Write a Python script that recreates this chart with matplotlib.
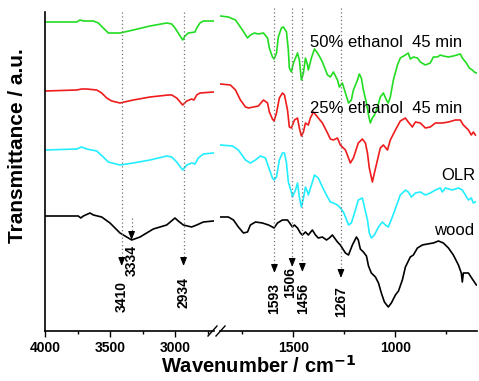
import numpy as np
import matplotlib
matplotlib.use("Agg")
import matplotlib.pyplot as plt
from matplotlib.lines import Line2D

plt.rcParams['font.family'] = ['Liberation Sans', 'DejaVu Sans']

# ---- spectra, high wavenumber window (4000 - 2700 cm-1) ----
wood_hi_wn = [4000, 3744, 3725, 3705, 3654, 3628, 3564, 3500, 3423, 3333, 3269, 3167, 3064, 3000, 2975, 2936, 2872, 2833, 2782, 2705]
wood_hi_t = [115, 115, 113, 115, 118, 116, 114, 108, 98, 91, 94, 102, 106, 113, 110, 106, 104, 106, 109, 110]

olr_hi_wn = [4000, 3756, 3718, 3679, 3602, 3552, 3513, 3423, 3321, 3192, 3064, 3025, 2987, 2941, 2910, 2872, 2846, 2821, 2782, 2705]
olr_hi_t = [181, 182, 184, 182, 180, 174, 169, 166, 168, 171, 175, 174, 169, 161, 166, 168, 167, 173, 177, 178]

e25_hi_wn = [4000, 3756, 3718, 3679, 3602, 3564, 3525, 3487, 3423, 3321, 3192, 3052, 3025, 2987, 2941, 2910, 2872, 2854, 2833, 2808, 2705]
e25_hi_t = [240, 241, 242, 242, 241, 238, 233, 230, 228, 231, 234, 236, 236, 233, 226, 230, 232, 231, 236, 238, 239]

e50_hi_wn = [4000, 3756, 3731, 3705, 3628, 3590, 3552, 3513, 3423, 3321, 3192, 3064, 3025, 3000, 2975, 2941, 2923, 2898, 2846, 2833, 2808, 2782, 2705]
e50_hi_t = [309, 309, 311, 310, 310, 308, 303, 298, 298, 301, 305, 308, 307, 303, 298, 291, 295, 298, 299, 303, 308, 310, 310]

# ---- spectra, fingerprint window (1860 - 600 cm-1) ----
e50_lo_wn = [1858, 1819, 1784, 1750, 1725, 1711, 1691, 1672, 1647, 1627, 1618, 1603, 1595, 1583, 1574, 1559, 1549,
             1534, 1525, 1520, 1510, 1500, 1480, 1471, 1461, 1451, 1441, 1431, 1427, 1412, 1397, 1382, 1368, 1358,
             1333, 1319, 1304, 1284, 1275, 1260, 1245, 1230, 1216, 1206, 1186, 1177, 1167, 1157, 1142, 1132, 1123,
             1113, 1103, 1088, 1074, 1059, 1044, 1035, 1025, 1010, 990, 976, 951, 937, 927, 912, 892, 878, 853, 829,
             814, 794, 780, 765, 740, 716, 682, 672, 652, 638, 623, 613, 603]
e50_lo_t = [315, 314, 311, 301, 293, 296, 298, 297, 298, 293, 283, 274, 272, 278, 294, 303, 304,
            299, 281, 263, 259, 268, 278, 271, 251, 258, 273, 266, 261, 273, 282, 278, 273, 269,
            256, 254, 259, 251, 244, 248, 238, 228, 231, 241, 251, 257, 253, 241, 228, 216, 208,
            213, 216, 224, 234, 238, 231, 228, 234, 251, 266, 273, 276, 278, 272, 274, 273, 269, 266, 268,
            274, 274, 276, 275, 274, 275, 277, 273, 268, 263, 261, 259, 258]

e25_lo_wn = [1858, 1809, 1784, 1760, 1735, 1720, 1696, 1672, 1647, 1627, 1618, 1603, 1595, 1583, 1569, 1554, 1544,
             1529, 1520, 1510, 1495, 1480, 1471, 1461, 1451, 1441, 1427, 1417, 1402, 1382, 1358, 1333, 1319, 1304,
             1284, 1270, 1245, 1230, 1221, 1206, 1182, 1162, 1147, 1137, 1128, 1113, 1103, 1088, 1074, 1059, 1039,
             1025, 1000, 976, 951, 937, 917, 902, 878, 853, 829, 804, 770, 740, 706, 682, 667, 642, 628, 618, 608]
e25_lo_t = [247, 246, 241, 231, 224, 223, 224, 225, 231, 228, 219, 212, 210, 218, 233, 238, 236,
            221, 204, 203, 211, 213, 203, 195, 199, 208, 206, 213, 219, 214, 208, 198, 192, 191,
            193, 186, 181, 173, 168, 173, 188, 192, 188, 178, 163, 149, 158, 171, 183, 186, 181,
            191, 201, 210, 213, 209, 204, 209, 208, 203, 204, 208, 208, 209, 211, 211, 206, 201, 196, 199, 196]

olr_lo_wn = [1858, 1799, 1770, 1735, 1711, 1686, 1662, 1637, 1622, 1603, 1595, 1583, 1569, 1554, 1544, 1534, 1525,
             1510, 1505, 1490, 1480, 1471, 1461, 1451, 1441, 1431, 1427, 1407, 1397, 1378, 1358, 1333, 1319, 1304,
             1284, 1270, 1255, 1245, 1230, 1216, 1196, 1182, 1162, 1152, 1137, 1128, 1118, 1103, 1083, 1064, 1049,
             1035, 1015, 990, 976, 951, 937, 922, 902, 878, 853, 829, 804, 780, 770, 755, 721, 691, 672, 657, 642,
             628, 618, 608]
olr_lo_t = [186, 185, 181, 171, 168, 171, 175, 173, 164, 153, 151, 154, 171, 178, 178, 168, 149,
            139, 134, 141, 148, 134, 124, 133, 144, 139, 136, 149, 156, 153, 144, 134, 129, 128,
            126, 123, 119, 114, 106, 108, 121, 131, 133, 124, 111, 98, 93, 96, 104, 109, 106,
            104, 114, 128, 136, 141, 139, 134, 138, 139, 136, 138, 141, 143, 139, 143, 141, 143, 141, 136, 131,
            133, 128, 129]

wood_lo_wn = [1858, 1819, 1794, 1770, 1745, 1725, 1711, 1686, 1652, 1622, 1603, 1595, 1578, 1554, 1529, 1515, 1505,
              1495, 1480, 1466, 1456, 1441, 1427, 1407, 1392, 1378, 1358, 1338, 1324, 1309, 1284, 1270, 1245, 1230,
              1211, 1191, 1182, 1172, 1157, 1142, 1132, 1118, 1098, 1083, 1069, 1054, 1035, 1020, 1000, 985, 966,
              951, 927, 912, 892, 868, 843, 814, 789, 765, 740, 716, 691, 677, 672, 667, 642, 623, 603]
wood_lo_t = [114, 114, 111, 104, 98, 99, 106, 109, 108, 106, 104, 103, 108, 111, 111, 107, 104,
             106, 103, 98, 96, 99, 96, 101, 96, 93, 94, 91, 93, 96, 89, 86, 78, 76,
             86, 94, 91, 82, 79, 75, 65, 58, 54, 48, 38, 29, 24, 28, 36, 40, 51,
             64, 74, 76, 83, 86, 87, 88, 90, 88, 83, 76, 66, 58, 49, 58, 58, 52, 46]

colors = ['black', '#22eeff', '#ee1c1c', '#22dd22']
hi_sets = [(wood_hi_wn, wood_hi_t), (olr_hi_wn, olr_hi_t), (e25_hi_wn, e25_hi_t), (e50_hi_wn, e50_hi_t)]
lo_sets = [(wood_lo_wn, wood_lo_t), (olr_lo_wn, olr_lo_t), (e25_lo_wn, e25_lo_t), (e50_lo_wn, e50_lo_t)]

# band marks: wavenumber, top of dotted line, arrow tip, label centre (height), label x shift (cm-1)
hi_bands = [(3410, 319, 65, 35, 0), (3334, 113, 91, 70, 0), (2934, 319, 65, 38, 0)]
lo_bands = [(1593, 323, 58, 33, 0), (1506, 323, 64, 49, 12), (1456, 323, 59, 33, -5), (1267, 323, 53, 29, 0)]

W, H = 479, 381
fig = plt.figure(figsize=(W / 100, H / 100), dpi=100)
ax1 = fig.add_axes([45 / W, 50 / H, 169 / W, 319 / H])
ax2 = fig.add_axes([220 / W, 50 / H, 257 / W, 319 / H])

for (x, y), c in zip(hi_sets, colors):
    ax1.plot(x, y, color=c, lw=1.2)
for (x, y), c in zip(lo_sets, colors):
    ax2.plot(x, y, color=c, lw=1.2)

ax1.set_xlim(4000, 2700)
ax2.set_xlim(1860, 600)
for ax in (ax1, ax2):
    ax.set_ylim(0, 319)
    ax.set_yticks([])
    ax.spines['top'].set_visible(False)
    ax.spines['right'].set_visible(False)
    ax.spines['bottom'].set_linewidth(1.2)
    ax.spines['left'].set_linewidth(1.2)
    ax.tick_params(axis='x', which='major', direction='out', length=4, width=1, pad=3)
    ax.tick_params(axis='x', which='minor', direction='out', length=2.5, width=1)
ax2.spines['left'].set_visible(False)

ax1.set_xticks([4000, 3500, 3000])
ax1.set_xticks([3750, 3250, 2750], minor=True)
ax2.set_xticks([1500, 1000])
ax2.set_xticks([1750, 1250, 750], minor=True)
for ax in (ax1, ax2):
    for lab in ax.get_xticklabels():
        lab.set_fontweight('bold')
        lab.set_fontsize(10)


def mark(ax, bands):
    for wn, top, tip, lab, shift in bands:
        ax.plot([wn, wn], [top, tip + 6], ls=(0, (1, 2)), color='0.45', lw=0.9, clip_on=False)
        ax.annotate('', xy=(wn, tip), xytext=(wn, tip + 8),
                    arrowprops=dict(arrowstyle='-|>,head_length=0.5,head_width=0.2', color='black',
                                    lw=0.8, shrinkA=0, shrinkB=0))
        ax.text(wn + shift, lab, str(wn), rotation=90, ha='center', va='center',
                fontsize=10, fontweight='bold')


mark(ax1, hi_bands)
mark(ax2, lo_bands)

ax2.text(1417, 284, '50% ethanol  45 min', fontsize=12, ha='left', va='baseline')
ax2.text(1417, 218, '25% ethanol  45 min', fontsize=12, ha='left', va='baseline')
ax2.text(608, 151, 'OLR', fontsize=12, ha='right', va='baseline')
ax2.text(613, 96, 'wood', fontsize=12, ha='right', va='baseline')

# axis break marks
for x0 in (208, 216):
    fig.add_artist(Line2D([x0 / W, (x0 + 9) / W], [(H - 336) / H, (H - 326) / H],
                          transform=fig.transFigure, color='black', lw=1))

fig.text(259 / W, (H - 366) / H, 'Wavenumber / cm$^{\\mathbf{-1}}$', ha='center', va='center',
         fontsize=14.5, fontweight='bold')
fig.text(18 / W, (H - 146) / H, 'Transmittance / a.u.', rotation=90, ha='center', va='center',
         fontsize=15, fontweight='bold')

fig.savefig('out.png', dpi=100)
